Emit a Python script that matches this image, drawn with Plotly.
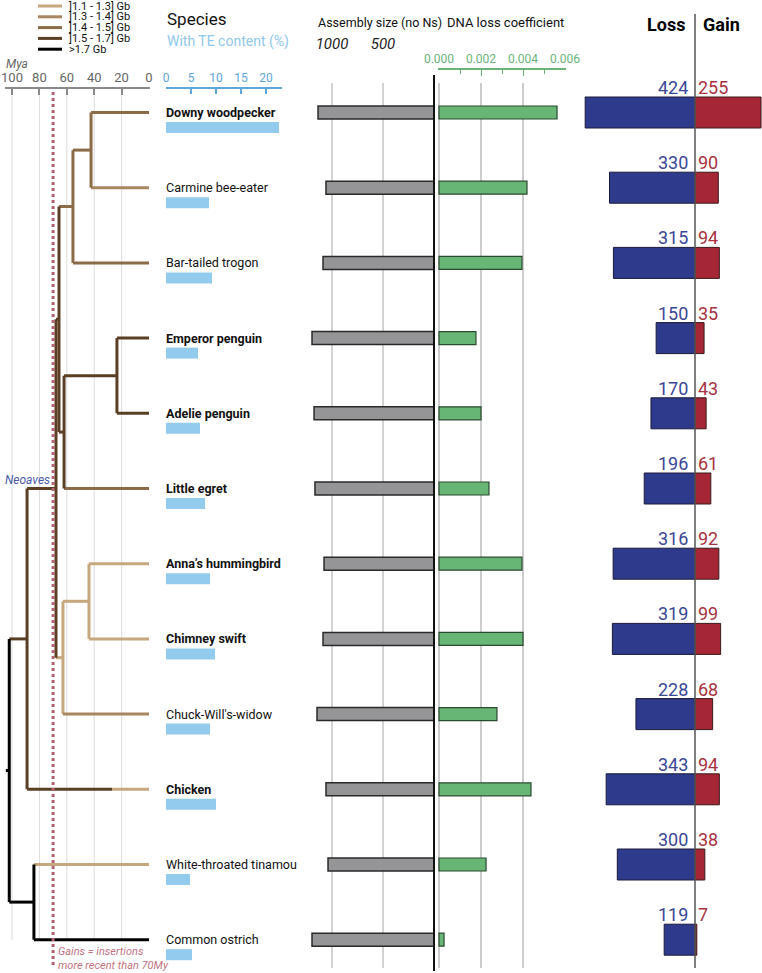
import plotly.graph_objects as go

# ---------------- data ----------------
SPECIES = ["Downy woodpecker", "Carmine bee-eater", "Bar-tailed trogon", "Emperor penguin",
           "Adelie penguin", "Little egret", "Anna’s hummingbird", "Chimney swift",
           "Chuck-Will's-widow", "Chicken", "White-throated tinamou", "Common ostrich"]
BOLD = [True, False, False, True, True, True, True, True, False, True, False, False]
TE_PCT = [22.6, 8.6, 9.2, 6.4, 6.8, 7.8, 8.8, 9.8, 8.8, 10.0, 4.8, 5.2]
ASSEMBLY_MB = [1137, 1059, 1088, 1196, 1176, 1167, 1078, 1088, 1147, 1059, 1039, 1196]
DNA_LOSS = [0.00562, 0.00419, 0.00395, 0.00176, 0.00200, 0.00238, 0.00395, 0.00400,
            0.00276, 0.00438, 0.00224, 0.00024]
LOSS_MB = [424, 330, 315, 150, 170, 196, 316, 319, 228, 343, 300, 119]
GAIN_MB = [255, 90, 94, 35, 43, 61, 92, 99, 68, 94, 38, 7]

MYA_TICKS = [100, 80, 60, 40, 20, 0]
TE_TICKS = [0, 5, 10, 15, 20]
ASM_TICKS = [1000, 500]
DNA_TICKS = [0.000, 0.002, 0.004, 0.006]
DNA_MINOR = [0.001, 0.003, 0.005]
DNA_GRID = [0.000, 0.002, 0.004]

SIZE_CLASSES = ["]1.1 - 1.3] Gb", "]1.3 - 1.4] Gb", "]1.4 - 1.5] Gb", "]1.5 - 1.7] Gb", ">1.7 Gb"]
CLASS_COLORS = ["#c6a77e", "#a8865f", "#8c6b48", "#5b3f24", "#000000"]

# internal nodes: name -> (children, age in Mya, genome size class)
NODES = {
    "n_wood_bee": (["Downy woodpecker", "Carmine bee-eater"], 42.3, 2),
    "n_trogon": (["n_wood_bee", "Bar-tailed trogon"], 55.5, 2),
    "n_penguins": (["Emperor penguin", "Adelie penguin"], 23.4, 3),
    "n_egret": (["n_penguins", "Little egret"], 62.0, 3),
    "n_water_land": (["n_trogon", "n_egret"], 65.7, 3),
    "n_hum_swift": (["Anna’s hummingbird", "Chimney swift"], 43.8, 0),
    "n_strisores": (["n_hum_swift", "Chuck-Will's-widow"], 62.8, 0),
    "Neoaves": (["n_water_land", "n_strisores"], 67.9, 3),
    "Neognathae": (["Neoaves", "Chicken"], 89.0, 3),
    "Palaeognathae": (["White-throated tinamou", "Common ostrich"], 84.0, 4),
    "root": (["Neognathae", "Palaeognathae"], 102.0, 4),
}
TIP_CLASS = [2, 1, 2, 3, 3, 2, 0, 0, 1, 3, 0, 4]
BRANCH_SHIFTS = {"Chicken": (27.0, 0)}  # age where class changes, class of younger part
ROOT_STEM_MYA = 104.5
GAIN_CUTOFF_MYA = 70

# ---------------- geometry helpers (pixel layout) ----------------
W, H = 762, 973
ROW0_PX, ROW_STEP_PX = 112.5, 75.2
FONT = "Roboto, Liberation Sans, Arial, sans-serif"


def fx(p):
    return p / W


def fy(p):
    return 1 - p / H


def rng(d0, d1, zero, ppu, reverse=False):
    if reverse:
        return [(zero - d0) / ppu, (zero - d1) / ppu]
    return [(d0 - zero) / ppu, (d1 - zero) / ppu]


def dy(px):  # pixel offset -> y units
    return px / ROW_STEP_PX


rows = list(range(len(SPECIES)))
fig = go.Figure()

# ---------------- tree ----------------
segs = {c: ([], []) for c in range(len(CLASS_COLORS))}


def add_seg(c, x0, x1, y0, y1):
    xs, ys = segs[c]
    xs += [x0, x1, None]
    ys += [y0, y1, None]


def layout_node(name):
    if name in SPECIES:
        i = SPECIES.index(name)
        return i, 0.0, TIP_CLASS[i]
    children, age, cls = NODES[name]
    info = [(ch,) + layout_node(ch) for ch in children]
    ys = [v[1] for v in info]
    y = (min(ys) + max(ys)) / 2
    add_seg(cls, age, age, min(ys), max(ys))
    for ch, cy, cage, ccls in info:
        if ch in BRANCH_SHIFTS:
            sage, scls = BRANCH_SHIFTS[ch]
            add_seg(ccls, age, sage, cy, cy)
            add_seg(scls, sage, cage, cy, cy)
        else:
            add_seg(ccls, age, cage, cy, cy)
    return y, age, cls


root_y, root_age, root_cls = layout_node("root")
add_seg(root_cls, ROOT_STEM_MYA, root_age, root_y, root_y)

for c in range(len(CLASS_COLORS)):
    xs, ys = segs[c]
    if xs:
        fig.add_trace(go.Scatter(x=xs, y=ys, mode="lines", xaxis="x", yaxis="y",
                                 line=dict(color=CLASS_COLORS[c], width=3),
                                 hoverinfo="skip", showlegend=False))

# ---------------- TE bars ----------------
fig.add_trace(go.Bar(x=TE_PCT, y=[r + dy(15) for r in rows], orientation="h", xaxis="x2", yaxis="y",
                     width=dy(11), marker=dict(color="#93cbee", line=dict(width=0)), showlegend=False))

# ---------------- assembly size ----------------
fig.add_trace(go.Bar(x=ASSEMBLY_MB, y=rows, orientation="h", xaxis="x3", yaxis="y",
                     width=dy(13), marker=dict(color="#959598", line=dict(color="#2a2a2a", width=1.5)),
                     showlegend=False))

# ---------------- DNA loss ----------------
fig.add_trace(go.Bar(x=DNA_LOSS, y=rows, orientation="h", xaxis="x4", yaxis="y",
                     width=dy(13), marker=dict(color="#68b675", line=dict(color="#2b4a30", width=1.2)),
                     showlegend=False))

# ---------------- loss / gain ----------------
fig.add_trace(go.Bar(x=[-v for v in LOSS_MB], y=rows, orientation="h", xaxis="x5", yaxis="y",
                     width=dy(31), marker=dict(color="#2e3a8c", line=dict(color="#1a1a3a", width=1)),
                     showlegend=False))
fig.add_trace(go.Bar(x=GAIN_MB, y=rows, orientation="h", xaxis="x5", yaxis="y",
                     width=dy(31), marker=dict(color="#a52635", line=dict(color="#3a1a1a", width=1)),
                     showlegend=False))

# ---------------- shapes ----------------
shapes = []
for v in MYA_TICKS:
    if v > 0:
        shapes.append(dict(type="line", xref="x", yref="paper", x0=v, x1=v, y0=fy(93), y1=fy(940),
                           line=dict(color="#dcdcdc", width=1), layer="below"))
shapes.append(dict(type="line", xref="x", yref="paper", x0=GAIN_CUTOFF_MYA, x1=GAIN_CUTOFF_MYA,
                   y0=fy(92), y1=fy(966), line=dict(color="#b3626f", width=3, dash="dot"), layer="above"))
for v in ASM_TICKS:
    shapes.append(dict(type="line", xref="x3", yref="paper", x0=v, x1=v, y0=fy(83), y1=fy(968),
                       line=dict(color="#c4c4c4", width=1.5), layer="below"))
for v in DNA_GRID:
    shapes.append(dict(type="line", xref="x4", yref="paper", x0=v, x1=v, y0=fy(83), y1=fy(968),
                       line=dict(color="#bdbdbd", width=1.5), layer="below"))
shapes.append(dict(type="line", xref="x3", yref="paper", x0=0, x1=0, y0=fy(75), y1=fy(971),
                   line=dict(color="#111111", width=2), layer="above"))
shapes.append(dict(type="line", xref="x5", yref="paper", x0=0, x1=0, y0=fy(14), y1=fy(968),
                   line=dict(color="#555555", width=1.5), layer="above"))
# legend lines
LEG_Y0, LEG_DY = 6.0, 10.8
for k, col in enumerate(CLASS_COLORS):
    yy = LEG_Y0 + LEG_DY * k
    shapes.append(dict(type="line", xref="paper", yref="paper", x0=fx(38), x1=fx(62), y0=fy(yy), y1=fy(yy),
                       line=dict(color=col, width=3)))

# ---------------- annotations ----------------
ann = []
for k, lab in enumerate(SIZE_CLASSES):
    ann.append(dict(xref="paper", yref="paper", x=fx(67), y=fy(LEG_Y0 + LEG_DY * k), text=lab,
                    showarrow=False, xanchor="left", yanchor="middle",
                    font=dict(family=FONT, size=11, color="#111")))
ann.append(dict(xref="paper", yref="paper", x=fx(4), y=fy(64), text="Mya", showarrow=False,
                xanchor="left", yanchor="middle", font=dict(family=FONT, size=12, color="#666", style="italic")))
ann.append(dict(xref="paper", yref="paper", x=fx(165), y=fy(19), text="Species", showarrow=False,
                xanchor="left", yanchor="middle", font=dict(family=FONT, size=17, color="#111")))
ann.append(dict(xref="paper", yref="paper", x=fx(165), y=fy(42), text="With TE content (%)", showarrow=False,
                xanchor="left", yanchor="middle", font=dict(family=FONT, size=14, color="#8fc8ec")))
ann.append(dict(xref="paper", yref="paper", x=fx(316), y=fy(23), text="Assembly size (no Ns)", showarrow=False,
                xanchor="left", yanchor="middle", font=dict(family=FONT, size=12.5, color="#111")))
ann.append(dict(xref="paper", yref="paper", x=fx(445), y=fy(22), text="DNA loss coefficient", showarrow=False,
                xanchor="left", yanchor="middle", font=dict(family=FONT, size=13, color="#111")))
ann.append(dict(xref="x5", yref="paper", x=0, y=fy(25), xshift=-8, text="<b>Loss</b>", showarrow=False,
                xanchor="right", yanchor="middle", font=dict(family=FONT, size=18, color="#000")))
ann.append(dict(xref="x5", yref="paper", x=0, y=fy(25), xshift=6, text="<b>Gain</b>", showarrow=False,
                xanchor="left", yanchor="middle", font=dict(family=FONT, size=18, color="#000")))
ann.append(dict(xref="x", yref="y", x=NODES["Neoaves"][1], y=5.0, yshift=9, xshift=-4, text="Neoaves",
                showarrow=False, xanchor="right", yanchor="middle",
                font=dict(family=FONT, size=12, color="#4a5aa8", style="italic")))
ann.append(dict(xref="x", yref="paper", x=GAIN_CUTOFF_MYA, y=fy(958), xshift=3,
                text="Gains = insertions<br>more recent than 70My", showarrow=False, align="left",
                xanchor="left", yanchor="middle",
                font=dict(family=FONT, size=11, color="#c27482", style="italic")))
for i, name in enumerate(SPECIES):
    ann.append(dict(xref="x2", yref="y", x=0, y=i, text=(f"<b>{name}</b>" if BOLD[i] else name),
                    showarrow=False, xanchor="left", yanchor="middle", xshift=-2,
                    font=dict(family=FONT, size=12.5, color="#111")))
    ann.append(dict(xref="x5", yref="y", x=0, y=i, yshift=25, xshift=-5, text=str(LOSS_MB[i]),
                    showarrow=False, xanchor="right", yanchor="middle",
                    font=dict(family=FONT, size=18, color="#3a4796")))
    ann.append(dict(xref="x5", yref="y", x=0, y=i, yshift=25, xshift=1, text=str(GAIN_MB[i]),
                    showarrow=False, xanchor="left", yanchor="middle",
                    font=dict(family=FONT, size=18, color="#a8323f")))

# ---------------- layout ----------------
common = dict(showgrid=False, zeroline=False, anchor="free", side="top", fixedrange=True, automargin=False)
fig.update_layout(
    template="none",
    width=W, height=H, margin=dict(l=0, r=0, t=0, b=0, pad=0, autoexpand=False),
    paper_bgcolor="white", plot_bgcolor="rgba(0,0,0,0)",
    barmode="overlay", showlegend=False,
    font=dict(family=FONT),
    yaxis=dict(domain=[0, 1], range=[(H - ROW0_PX) / ROW_STEP_PX, -ROW0_PX / ROW_STEP_PX],
               visible=False, fixedrange=True, automargin=False),
    xaxis=dict(domain=[fx(5), fx(150)], range=rng(5, 150, 149, 1.37, reverse=True),
               position=fy(88), tickvals=MYA_TICKS, ticks="inside", ticklen=6, tickwidth=2,
               tickcolor="#8a8a8a", showline=True, linecolor="#8a8a8a", linewidth=2,
               tickfont=dict(family=FONT, size=13, color="#666"), **common),
    xaxis2=dict(domain=[fx(166), fx(282)], range=rng(166, 282, 166, 5.0),
                position=fy(88), tickvals=TE_TICKS, ticks="inside", ticklen=5, tickwidth=1.5,
                tickcolor="#5ea7da", showline=True, linecolor="#5ea7da", linewidth=1.5,
                tickfont=dict(family=FONT, size=12, color="#5ea7da"), **common),
    xaxis3=dict(domain=[fx(300), fx(436)], range=rng(300, 436, 434, 0.102, reverse=True),
                position=fy(52), tickvals=ASM_TICKS, ticks="", showline=False,
                tickfont=dict(family=FONT, size=15, color="#222", style="italic"), **common),
    xaxis4=dict(domain=[fx(438), fx(566)], range=rng(438, 566, 439, 21000.0),
                position=fy(69), tickvals=DNA_TICKS, tickformat=".3f", ticks="inside", ticklen=6,
                tickwidth=1.2, tickcolor="#6ab47a", showline=True, linecolor="#6ab47a", linewidth=1.5,
                minor=dict(tickvals=DNA_MINOR, ticks="inside", ticklen=4, tickcolor="#6ab47a", tickwidth=1.2),
                tickfont=dict(family=FONT, size=12, color="#6ab47a"), **common),
    xaxis5=dict(domain=[fx(578), fx(762)], range=rng(578, 762, 695, 0.259),
                position=fy(60), visible=False, **common),
    shapes=shapes, annotations=ann,
)

fig.write_html(
    "out.html",
    config={"responsive": False, "displayModeBar": False},
    post_script=("document.documentElement.style.margin='0';document.body.style.margin='0';"
                 "document.documentElement.style.overflow='hidden';document.body.style.overflow='hidden';"),
)
